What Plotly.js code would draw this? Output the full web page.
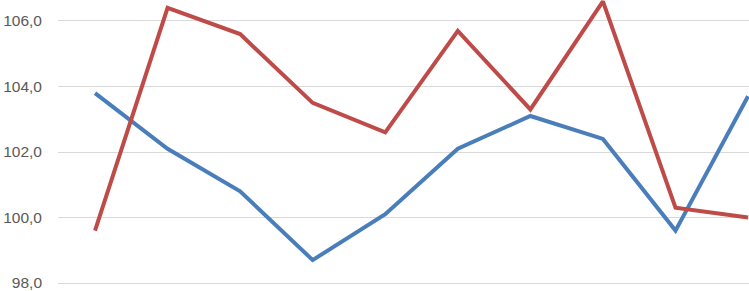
<!DOCTYPE html>
<html>
<head>
<meta charset="utf-8">
<script src="https://cdn.plot.ly/plotly-3.0.1.min.js"></script>
<style>html,body{margin:0;padding:0;background:#fff;}#chart{width:749px;height:291px;}</style>
</head>
<body>
<div id="chart"></div>
<script>
var categories = ["1", "2", "3", "4", "5", "6", "7", "8", "9", "10"];
var seriesBlue = [103.8, 102.1, 100.8, 98.7, 100.1, 102.1, 103.1, 102.4, 99.6, 103.7];
var seriesRed  = [99.6, 106.4, 105.6, 103.5, 102.6, 105.7, 103.3, 106.6, 100.3, 100.0];
var yTicks = [98, 100, 102, 104, 106];

var xIdx = categories.map(function(c, i){ return i; });

var traces = [
  {x: xIdx, y: seriesBlue, type: 'scatter', mode: 'lines', name: 'Serie 1',
   line: {color: '#4a7ebb', width: 4}, hoverinfo: 'y'},
  {x: xIdx, y: seriesRed, type: 'scatter', mode: 'lines', name: 'Serie 2',
   line: {color: '#be4b48', width: 4}, hoverinfo: 'y'}
];

var layout = {
  width: 749, height: 291,
  margin: {l: 58, r: 0, t: 0, b: 0, pad: 0},
  paper_bgcolor: '#ffffff', plot_bgcolor: '#ffffff',
  showlegend: false,
  separators: ',.',
  font: {family: 'Liberation Sans, Arial, sans-serif', size: 15.5, color: '#595959'},
  xaxis: {
    range: [-0.51, 9.013],
    tickvals: xIdx, ticktext: categories,
    showticklabels: false, showgrid: false, zeroline: false, showline: false, ticks: ''
  },
  yaxis: {
    range: [97.756, 106.641],
    tickvals: yTicks, tickformat: '.1f',
    showgrid: true, gridcolor: '#d9d9d9', gridwidth: 1,
    zeroline: false, showline: false, ticks: '',
    ticklabelstandoff: 15,
    ticklabeloverflow: 'allow',
    tickfont: {size: 15.5, color: '#595959'}
  }
};

Plotly.newPlot('chart', traces, layout, {staticPlot: true, displayModeBar: false});
</script>
</body>
</html>
